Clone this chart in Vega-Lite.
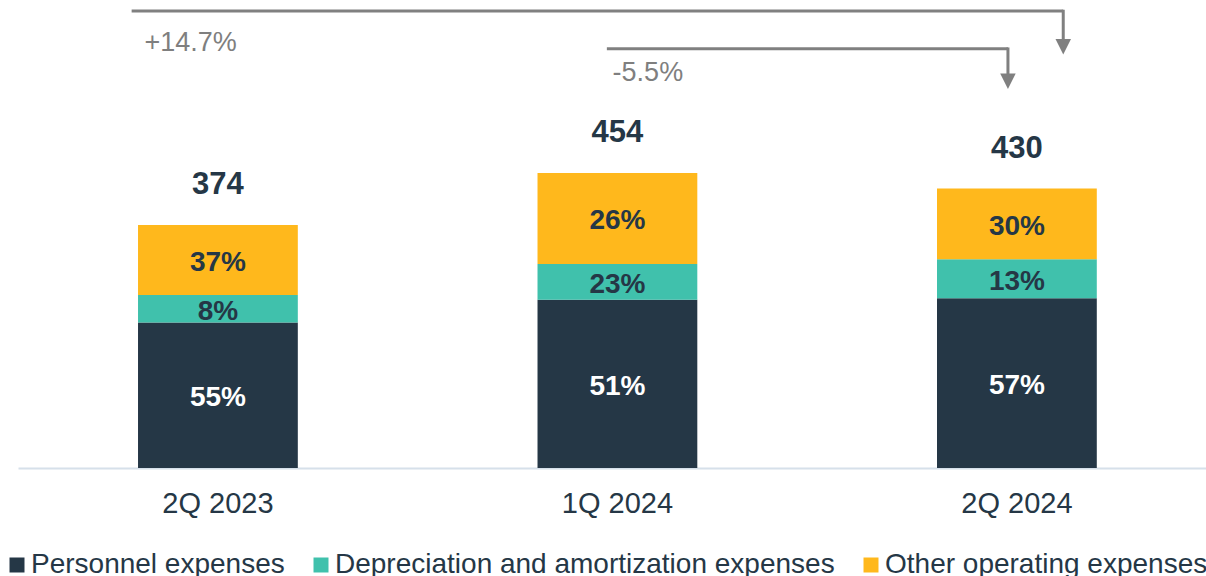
{
  "$schema": "https://vega.github.io/schema/vega-lite/v6.json",
  "width": 1188,
  "height": 468,
  "padding": {"left": 18, "top": 0, "right": 0, "bottom": 108},
  "autosize": {"type": "none"},
  "config": {"font": "Liberation Sans", "view": {"stroke": null}},
  "data": {"values": [
    {"period": "2Q 2023", "category": "Personnel expenses", "value": 224, "label": "55%"},
    {"period": "2Q 2023", "category": "Depreciation and amortization expenses", "value": 42, "label": "8%"},
    {"period": "2Q 2023", "category": "Other operating expenses", "value": 108, "label": "37%"},
    {"period": "1Q 2024", "category": "Personnel expenses", "value": 259, "label": "51%"},
    {"period": "1Q 2024", "category": "Depreciation and amortization expenses", "value": 55, "label": "23%"},
    {"period": "1Q 2024", "category": "Other operating expenses", "value": 140, "label": "26%"},
    {"period": "2Q 2024", "category": "Personnel expenses", "value": 261, "label": "57%"},
    {"period": "2Q 2024", "category": "Depreciation and amortization expenses", "value": 60, "label": "13%"},
    {"period": "2Q 2024", "category": "Other operating expenses", "value": 109, "label": "30%"}
  ]},
  "transform": [
    {"calculate": "indexof(['Personnel expenses', 'Depreciation and amortization expenses', 'Other operating expenses'], datum.category)", "as": "stackRank"}
  ],
  "resolve": {"scale": {"color": "independent"}},
  "layer": [
    {
      "mark": {"type": "bar"},
      "encoding": {
        "x": {"field": "period", "type": "nominal", "sort": ["2Q 2023", "1Q 2024", "2Q 2024"],
              "scale": {"domain": ["2Q 2023", "1Q 2024", "2Q 2024"], "paddingInner": 0.6, "paddingOuter": 0.2869, "align": 0.5236},
              "axis": {"title": null, "labelAngle": 0, "ticks": false, "domainColor": "#D6E0EA", "domainWidth": 2,
                       "labelFontSize": 29, "labelColor": "#253746", "labelPadding": 21}},
        "y": {"field": "value", "type": "quantitative", "aggregate": "sum", "stack": "zero",
              "scale": {"domain": [0, 720], "nice": false, "zero": true}, "axis": null},
        "order": {"field": "stackRank", "type": "quantitative", "aggregate": "min"},
        "color": {"field": "category", "type": "nominal",
                  "sort": ["Personnel expenses", "Depreciation and amortization expenses", "Other operating expenses"],
                  "scale": {"domain": ["Personnel expenses", "Depreciation and amortization expenses", "Other operating expenses"],
                            "range": ["#253746", "#40C1AC", "#FFB81C"]},
                  "legend": {"orient": "none", "legendX": -15, "legendY": 551, "direction": "horizontal", "title": null,
                             "symbolType": "square", "symbolSize": 225, "symbolStrokeWidth": 0, "symbolOpacity": 1,
                             "labelFontSize": 28, "labelColor": "#253746", "labelLimit": 0, "labelOffset": 0,
                             "columnPadding": 22, "padding": 0}}
      }
    },
    {
      "mark": {"type": "text", "fontSize": 28, "fontWeight": "bold", "baseline": "middle", "align": "center", "dy": 3},
      "encoding": {
        "x": {"field": "period", "type": "nominal", "sort": ["2Q 2023", "1Q 2024", "2Q 2024"]},
        "y": {"field": "value", "type": "quantitative", "aggregate": "sum", "stack": "zero", "bandPosition": 0.5},
        "order": {"field": "stackRank", "type": "quantitative", "aggregate": "min"},
        "text": {"field": "label", "type": "nominal"},
        "color": {"field": "category", "type": "nominal",
                  "sort": ["Personnel expenses", "Depreciation and amortization expenses", "Other operating expenses"],
                  "scale": {"domain": ["Personnel expenses", "Depreciation and amortization expenses", "Other operating expenses"],
                            "range": ["#FFFFFF", "#253746", "#253746"]},
                  "legend": null}
      }
    },
    {
      "transform": [{"aggregate": [{"op": "sum", "field": "value", "as": "total"}], "groupby": ["period"]}],
      "mark": {"type": "text", "fontSize": 31, "fontWeight": "bold", "baseline": "middle", "align": "center", "dy": -40, "color": "#253746"},
      "encoding": {
        "x": {"field": "period", "type": "nominal", "sort": ["2Q 2023", "1Q 2024", "2Q 2024"]},
        "y": {"field": "total", "type": "quantitative"},
        "text": {"field": "total", "type": "quantitative", "format": "d"}
      }
    },
    {
      "data": {"values": [{"from": "2Q 2023", "to": "2Q 2024", "change": "+14.7%"}]},
      "layer": [
        {"mark": {"type": "rule", "color": "#808080", "strokeWidth": 3},
         "encoding": {"x": {"field": "from", "type": "nominal", "bandPosition": -0.04},
                      "x2": {"field": "to", "bandPosition": 0.79},
                      "y": {"datum": 703, "type": "quantitative"}}},
        {"mark": {"type": "rule", "color": "#808080", "strokeWidth": 3},
         "encoding": {"x": {"field": "to", "type": "nominal", "bandPosition": 0.79},
                      "y": {"datum": 705, "type": "quantitative"},
                      "y2": {"datum": 655}}},
        {"mark": {"type": "point", "shape": "M-1,-1L1,-1L0,1Z", "filled": true, "size": 240, "color": "#808080", "opacity": 1},
         "encoding": {"x": {"field": "to", "type": "nominal", "bandPosition": 0.79},
                      "y": {"datum": 648, "type": "quantitative"}}},
        {"mark": {"type": "text", "align": "left", "baseline": "middle", "fontSize": 27, "color": "#7F7F7F"},
         "encoding": {"x": {"field": "from", "type": "nominal", "bandPosition": 0.04},
                      "y": {"datum": 654, "type": "quantitative"},
                      "text": {"field": "change"}}}
      ]
    },
    {
      "data": {"values": [{"from": "1Q 2024", "to": "2Q 2024", "change": "-5.5%"}]},
      "layer": [
        {"mark": {"type": "rule", "color": "#808080", "strokeWidth": 3},
         "encoding": {"x": {"field": "from", "type": "nominal", "bandPosition": 0.434},
                      "x2": {"field": "to", "bandPosition": 0.444},
                      "y": {"datum": 645, "type": "quantitative"}}},
        {"mark": {"type": "rule", "color": "#808080", "strokeWidth": 3},
         "encoding": {"x": {"field": "to", "type": "nominal", "bandPosition": 0.444},
                      "y": {"datum": 647, "type": "quantitative"},
                      "y2": {"datum": 602}}},
        {"mark": {"type": "point", "shape": "M-1,-1L1,-1L0,1Z", "filled": true, "size": 240, "color": "#808080", "opacity": 1},
         "encoding": {"x": {"field": "to", "type": "nominal", "bandPosition": 0.444},
                      "y": {"datum": 595, "type": "quantitative"}}},
        {"mark": {"type": "text", "align": "left", "baseline": "middle", "fontSize": 27, "color": "#7F7F7F"},
         "encoding": {"x": {"field": "from", "type": "nominal", "bandPosition": 0.47},
                      "y": {"datum": 608, "type": "quantitative"},
                      "text": {"field": "change"}}}
      ]
    }
  ]
}
